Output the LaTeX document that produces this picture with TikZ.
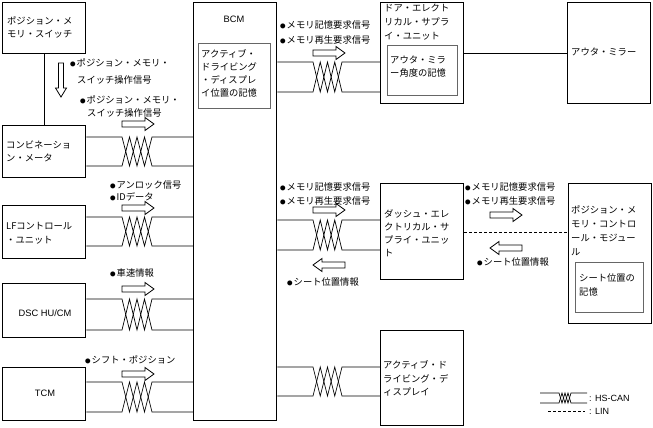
\documentclass[tikz,border=0pt]{standalone}
\usepackage{fontspec}
\setmainfont{Noto Sans CJK JP}
\newfontfamily\lat{Liberation Sans}
\newcommand{\bul}{{\fontsize{5.5pt}{5.5pt}\selectfont ●}\hspace{1pt}}
\tikzset{
  box/.style={draw=black, line width=1.4pt, anchor=north west, inner sep=0pt},
  inbox/.style={draw=black!60, line width=0.8pt, anchor=north west, inner sep=0pt},
  conn/.style={draw=black, line width=0.7pt},
  txt/.style={align=left, inner sep=0pt, anchor=west, font=\fontsize{9.3pt}{13.5pt}\selectfont},
  harrow/.style={draw=black, fill=white, line width=0.8pt},
}
\newcommand{\twpair}[6]{%
  \pgfmathsetmacro{\tw}{(#6-#5)/4}%
  \draw[conn] (#1.east |- 0,#3) -- (#5,#3) -- ++(\tw,#4-#3) -- ++(\tw,#3-#4) -- ++(\tw,#4-#3) -- ++(\tw,#3-#4) -- (#2.west |- 0,#3);
  \draw[conn] (#1.east |- 0,#4) -- (#5,#4) -- ++(\tw,#3-#4) -- ++(\tw,#4-#3) -- ++(\tw,#3-#4) -- ++(\tw,#4-#3) -- (#2.west |- 0,#4);
}
\newcommand{\rarr}[2]{\draw[harrow] (#1,#2-3) -- ++(23,0) -- ++(0,-3.5) -- ++(9,6.5) -- ++(-9,6.5) -- ++(0,-3.5) -- ++(-23,0) -- cycle;}
\newcommand{\larr}[2]{\draw[harrow] (#1+32,#2-3) -- ++(-23,0) -- ++(0,-3.5) -- ++(-9,6.5) -- ++(9,6.5) -- ++(0,-3.5) -- ++(23,0) -- cycle;}
\newcommand{\mtext}[5]{\foreach \tl [count=\ii from 0] in {#5} {\node[txt] (#1\ii) at (#2,#3+\ii*#4) {\tl};}}
\begin{document}
\begin{tikzpicture}[x=1pt,y=-1pt]
\path[use as bounding box, fill=white] (0,0) rectangle (653,428);

% left boxes
\node[box, minimum width=83pt, minimum height=51pt] (sw) at (2,2) {};
\mtext{swt}{7}{21}{13}{ポジション・メ,モリ・スイッチ}
\node[box, minimum width=83pt, minimum height=52pt] (cm) at (2,125) {};
\mtext{cmt}{6}{145}{13}{コンビネーショ,ン・メータ}
\node[box, minimum width=83pt, minimum height=53pt] (lf) at (2,205) {};
\mtext{lft}{6}{226}{14}{LFコントロール,・ユニット}
\node[box, minimum width=83pt, minimum height=54pt] (dsc) at (2,283) {};
\node[txt, anchor=center] (dsct) at (45,313) {\lat DSC HU/CM};
\node[box, minimum width=83pt, minimum height=53pt] (tcm) at (2,367) {};
\node[txt, anchor=center] (tcmt) at (45,393) {\lat TCM};

% BCM
\node[box, minimum width=83pt, minimum height=418pt] (bcm) at (193,2) {};
\node[txt, anchor=center] (bcmt) at (234,19) {\lat BCM};
\node[inbox, minimum width=72pt, minimum height=65pt] (bcmin) at (198,43) {};
\mtext{bcmint}{201}{54}{13}{アクティブ・,ドライビング,・ディスプレ,イ位置の記憶}

% right boxes
\node[box, minimum width=83pt, minimum height=101pt] (door) at (380,2) {};
\mtext{doort}{384}{8}{14}{ドア・エレクト,リカル・サプラ,イ・ユニット}
\node[inbox, minimum width=70pt, minimum height=50pt] (doorin) at (387,45) {};
\mtext{doorint}{390}{60}{13}{アウタ・ミラ,ー角度の記憶}
\node[box, minimum width=83pt, minimum height=101pt] (mir) at (567,2) {};
\node[txt] (mirt) at (571,52) {アウタ・ミラー};

\node[box, minimum width=83pt, minimum height=96pt] (dash) at (380,183) {};
\mtext{dasht}{384}{214}{13}{ダッシュ・エレ,クトリカル・サ,プライ・ユニッ,ト}
\node[box, minimum width=83pt, minimum height=140pt] (pm) at (568,183) {};
\mtext{pmt}{571}{210}{14}{ポジション・メ,モリ・コントロ,ール・モジュー,ル}
\node[inbox, minimum width=68pt, minimum height=50pt] (pmin) at (575,262) {};
\mtext{pmint}{579}{278}{14}{シート位置の,記憶}

\node[box, minimum width=83pt, minimum height=95pt] (add) at (380,330) {};
\mtext{addt}{383}{365}{13.5}{アクティブ・ド,ライビング・デ,ィスプレイ}

% connections
\draw[conn] (sw) -- (cm);
\twpair{cm}{bcm}{137}{166}{122}{152}
\twpair{lf}{bcm}{217}{246}{122}{152}
\twpair{dsc}{bcm}{299}{330}{122}{152}
\twpair{tcm}{bcm}{382}{412}{122}{152}
\twpair{bcm}{door}{62}{92}{313}{342}
\twpair{bcm}{dash}{220}{250}{313}{342}
\twpair{bcm}{add}{367}{396}{313}{342}
\draw[conn] (door.east |- 0,53) -- (mir.west |- 0,53);
\draw[conn, dash pattern=on 3pt off 2pt] (dash.east |- 0,232) -- (pm.west |- 0,232);

% hollow arrows
\draw[harrow] (58.5,63) -- (58.5,88) -- (55.5,88) -- (61,97) -- (66.5,88) -- (63.5,88) -- (63.5,63) -- cycle;
\rarr{122}{124}
\rarr{122}{208}
\rarr{122}{289}
\rarr{122}{374}
\rarr{313}{53}
\rarr{313}{210}
\larr{313}{265}
\rarr{490}{215}
\larr{490}{248}

% labels
\node[txt] (l1a) at (70,63) {\bul ポジション・メモリ・};
\node[txt] (l1b) at (77,80) {スイッチ操作信号};
\node[txt] (l2a) at (80,100) {\bul ポジション・メモリ・};
\node[txt] (l2b) at (87,113) {スイッチ操作信号};
\node[txt] (l3a) at (110,185) {\bul アンロック信号};
\node[txt] (l3b) at (110,197) {\bul IDデータ};
\node[txt] (l4) at (110,273) {\bul 車速情報};
\node[txt] (l5) at (85,360) {\bul シフト・ポジション};
\node[txt] (l6a) at (280,25) {\bul メモリ記憶要求信号};
\node[txt] (l6b) at (280,40) {\bul メモリ再生要求信号};
\node[txt] (l7a) at (280,187) {\bul メモリ記憶要求信号};
\node[txt] (l7b) at (280,201) {\bul メモリ再生要求信号};
\node[txt] (l7c) at (287,282) {\bul シート位置情報};
\node[txt] (l8a) at (465,187) {\bul メモリ記憶要求信号};
\node[txt] (l8b) at (465,201) {\bul メモリ再生要求信号};
\node[txt] (l8c) at (477,262) {\bul シート位置情報};

% legend
\coordinate (lg1) at (540,393);
\coordinate (lg2) at (540,403);
\coordinate (lg3) at (587,393);
\coordinate (lg4) at (587,403);
\draw[conn] (lg1) -- (559,393) -- ++(3,10) -- ++(3,-10) -- ++(3,10) -- ++(3,-10) -- (lg3);
\draw[conn] (lg2) -- (559,403) -- ++(3,-10) -- ++(3,10) -- ++(3,-10) -- ++(3,10) -- (lg4);
\node[txt, font=\lat\fontsize{9pt}{11pt}\selectfont] (lgt1) at (589,398) {: HS-CAN};
\coordinate (lg5) at (548,411);
\coordinate (lg6) at (585,411);
\draw[conn, dash pattern=on 3pt off 2pt] (lg5) -- (lg6);
\node[txt, font=\lat\fontsize{9pt}{11pt}\selectfont] (lgt2) at (589,411) {: LIN};
\end{tikzpicture}
\end{document}
